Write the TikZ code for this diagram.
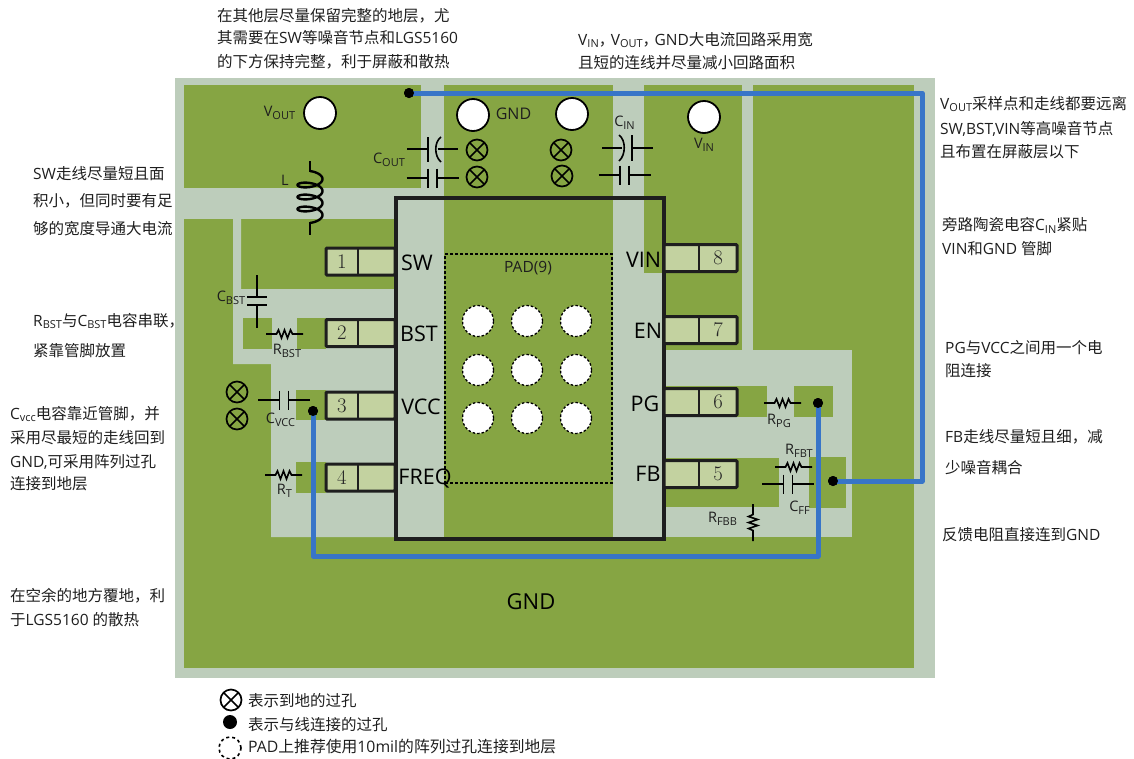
\documentclass[tikz,border=0pt]{standalone}
\usepackage{fontspec}
\setmainfont{Open Sans}
\newfontfamily\cn{Noto Sans CJK SC}
\definecolor{plane}{HTML}{86A543}
\definecolor{gap}{HTML}{BDCDBB}
\definecolor{padfill}{HTML}{C3D2A0}
\definecolor{trace}{HTML}{3875C8}
\definecolor{ink}{HTML}{1E1E1E}
\newcommand{\zh}[1]{{\cn #1}}
\newcommand{\lsub}[1]{\raisebox{-0.35ex}{\fontsize{11}{11}\selectfont #1}}
\newcommand{\tsub}[1]{\raisebox{-0.35ex}{\fontsize{11}{11}\selectfont #1}}
\newcommand{\numL}[1]{\makebox[69pt][l]{\makebox[32pt]{$#1$}}}
\newcommand{\numR}[1]{\makebox[73pt][r]{\makebox[38pt]{$#1$}}}
\newcommand{\cnsep}{\makebox[12pt][l]{\zh{，}}}
\tikzset{
    pinL/.style={rectangle, draw=ink, line width=3pt, fill=padfill, rounded corners=1pt, minimum width=69pt, minimum height=27pt, inner sep=0pt, text=black!85, font=\fontsize{20}{21}\selectfont,
        path picture={\draw[ink, line width=1.3pt] ([xshift=32pt]path picture bounding box.north west) -- ([xshift=32pt]path picture bounding box.south west);}},
    pinR/.style={pinL, minimum width=73pt,
        path picture={\draw[ink, line width=1.3pt] ([xshift=-38pt]path picture bounding box.north east) -- ([xshift=-38pt]path picture bounding box.south east);}},
    pinname/.style={font=\fontsize{21.5}{23}\selectfont, text=black, inner sep=0pt},
    part/.style={font=\fontsize{14.5}{16}\selectfont, text=ink, inner sep=0pt},
    note/.style={font=\fontsize{15.5}{17}\selectfont, text=ink, inner sep=0pt, anchor=west},
    hole/.style={circle, draw=black, line width=1.8pt, fill=white, minimum size=32pt, inner sep=0pt},
    padvia/.style={circle, draw=black, line width=1.3pt, dash pattern=on 2.5pt off 2pt, fill=white, minimum size=31pt, inner sep=0pt},
    gndvia/.style={circle, draw=black, line width=1.7pt, minimum size=21pt, inner sep=0pt,
        path picture={\draw[black, line width=1.7pt] (path picture bounding box.south west) -- (path picture bounding box.north east) (path picture bounding box.north west) -- (path picture bounding box.south east);}},
    dotvia/.style={circle, fill=black, minimum size=10pt, inner sep=0pt},
    bluetrace/.style={trace, line width=5pt, line join=round},
    comp/.style={black, line width=1.6pt},
    resH/.pic={\draw[comp] (-18.5,0) -- (-8,0) -- (-6,-4) -- (-3,4) -- (0,-4) -- (3,4) -- (6,-4) -- (8,0) -- (18.5,0);},
    resV/.pic={\draw[comp] (0,-18.5) -- (0,-8) -- (-4.5,-6) -- (4.5,-3) -- (-4.5,0) -- (4.5,3) -- (-4.5,6) -- (0,8) -- (0,18.5);},
    capH/.pic={\draw[comp] (-26,0) -- (-4.5,0) (4.5,0) -- (26,0) (-4.5,-9.5) -- (-4.5,9.5) (4.5,-9.5) -- (4.5,9.5);},
}
\begin{document}
\begin{tikzpicture}[x=1pt, y=-1pt]
\useasboundingbox (0,0) rectangle (1134,758);

% board
\fill[gap] (175,78) rectangle (935,678);
\fill[plane] (184,84.5) rectangle (914,668);
\fill[gap] (175,188) rectangle (396,219);
\fill[gap] (233,219) -- (241,219) -- (241,289) -- (396,289) -- (396,537) -- (271,537) -- (271,364) -- (233,364) -- cycle;
\fill[gap] (421,78) rectangle (444,188);
\fill[gap] (396,188) rectangle (444,537);
\fill[gap] (613,78) rectangle (644,273);
\fill[gap] (613,273) rectangle (664,537);
\fill[gap] (742,78) rectangle (753,350);
\fill[gap] (664,350) rectangle (852,537);
\fill[plane] (243,318) rectangle (272,349);
\fill[plane] (297,318) rectangle (326,349);
\fill[plane] (296,390) rectangle (326,420);
\fill[plane] (296,462) rectangle (326,493);
\fill[plane] (664,386) rectangle (767,417);
\fill[plane] (794,386) rectangle (833,417);
\fill[plane] (664,458) rectangle (779,507);
\fill[plane] (809,457) rectangle (846,508);

% chip
\node[rectangle, draw=ink, line width=3.2pt, minimum width=268pt, minimum height=341pt, inner sep=0pt] (chip) at (530,368.5) {};
\node[rectangle, draw=black, line width=1.4pt, dash pattern=on 3pt off 2pt, minimum width=167pt, minimum height=229pt, inner sep=0pt] (pad) at (528.5,368.5) {};
\node[font=\fontsize{15.5}{17}\selectfont, text=ink, inner sep=0pt] (padname) at (528,268.5) {PAD(9)};
\node[padvia] (v1) at (478,321) {};
\node[padvia] (v2) at (527,321) {};
\node[padvia] (v3) at (576,321) {};
\node[padvia] (v4) at (478,370) {};
\node[padvia] (v5) at (527,370) {};
\node[padvia] (v6) at (576,370) {};
\node[padvia] (v7) at (478,418) {};
\node[padvia] (v8) at (527,418) {};
\node[padvia] (v9) at (576,418) {};

% pins
\node[pinL] (pin1) at (360.5,261.5) {\numL{1}};
\node[pinL] (pin2) at (360.5,333) {\numL{2}};
\node[pinL] (pin3) at (360.5,405.5) {\numL{3}};
\node[pinL] (pin4) at (360.5,477.5) {\numL{4}};
\node[pinR] (pin8) at (700.5,258) {\numR{8}};
\node[pinR] (pin7) at (700.5,330) {\numR{7}};
\node[pinR] (pin6) at (700.5,402) {\numR{6}};
\node[pinR] (pin5) at (700.5,474) {\numR{5}};
\node[pinname] (sw) at (417,263) {SW};
\node[pinname] (bst) at (419,334) {BST};
\node[pinname] (vcc) at (421,407) {VCC};
\node[pinname] (freq) at (425,479) {FREQ};
\node[pinname] (vin) at (643.5,260) {VIN};
\node[pinname] (en) at (648,331) {EN};
\node[pinname] (pg) at (645,404) {PG};
\node[pinname] (fb) at (648,474) {FB};
\node[pinname, font=\fontsize{22}{24}\selectfont] (gndbig) at (531,602) {GND};

% top holes
\node[hole] (hvout) at (320,113) {};
\node[hole] (hgnda) at (473,115) {};
\node[hole] (hgndb) at (572,114) {};
\node[hole] (hvin) at (704,117) {};
\node[part] (lvout) at (279.5,113) {V\lsub{OUT}};
\node[part, font=\fontsize{16}{18}\selectfont] (lgnd) at (513.5,114) {GND};
\node[part] (lvin) at (704,145) {V\lsub{IN}};

% ground vias
\node[gndvia] (ga) at (477,150) {};
\node[gndvia] (gb) at (477,177) {};
\node[gndvia] (gc) at (561,150) {};
\node[gndvia] (gd) at (562,176) {};
\node[gndvia] (ge) at (237,392) {};
\node[gndvia] (gf) at (237,419) {};

% inductor
\draw[comp] (310,161) -- (310,172) (310,222) -- (310,235);
\draw[black, line width=2.4pt] plot[domain=-90:1170, samples=140] ({310+12.5*cos(\x)},{179+\x/30+5*sin(\x)});
\node[part] (ll) at (285,180) {L};

% capacitors
\pic at (432.5,178) {capH};
\draw[comp] (407,149) -- (428,149) (428,137) -- (428,162) (437.5,149) -- (458,149);
\draw[comp] (441,137) .. controls (434,142) and (434,156) .. (441,162);
\node[part] (lcouta) at (389,160) {C\lsub{OUT}};
\pic at (624.5,175) {capH};
\draw[comp] (602,148) -- (622,148) (632,135) -- (632,161) (632,148) -- (653,148);
\draw[comp] (619,135) .. controls (626,140) and (626,155) .. (619,161);
\node[part] (lcin) at (624.5,123) {C\lsub{IN}};
\draw[comp] (257,275) -- (257,297) (247,297) -- (267,297) (247,305) -- (267,305) (257,305) -- (257,328);
\node[part] (lcbst) at (231,298) {C\lsub{BST}};
\pic at (284,400) {capH};
\node[part] (lcvcc) at (280.5,420) {C\lsub{VCC}};
\pic at (788,484) {capH};
\node[part] (lcff) at (799.5,508) {C\lsub{FF}};

% resistors
\pic at (284.5,334) {resH};
\node[part] (lrbst) at (287,351) {R\lsub{BST}};
\pic at (283.5,475) {resH};
\node[part] (lrt) at (284.5,491) {R\lsub{T}};
\pic at (782.5,403) {resH};
\node[part] (lrpg) at (779,421) {R\lsub{PG}};
\pic at (793.5,467) {resH};
\node[part] (lrfbt) at (799,451) {R\lsub{FBT}};
\pic at (753,522.5) {resV};
\node[part] (lrfbb) at (722.5,519) {R\lsub{FBB}};

% blue traces
\node[dotvia] (da) at (409,93) {};
\node[dotvia] (db) at (833,481) {};
\node[dotvia] (dc) at (313,411) {};
\node[dotvia] (dd) at (818,403) {};
\coordinate (ca) at (922,94);
\coordinate (cc) at (313,556);
\draw[bluetrace] (da.center) -- (da.center -| ca) -- (ca |- db) -- (db.center);
\draw[bluetrace] (dc.center) -- (cc) -- (cc -| dd) -- (dd.center);
\node[dotvia] at (da) {};
\node[dotvia] at (db) {};
\node[dotvia] at (dc) {};
\node[dotvia] at (dd) {};

% notes top
\node[note] (ta) at (217,16) {\zh{在其他层尽量保留完整的地层，尤}};
\node[note] (tb) at (217,38) {\zh{其需要在}SW\zh{等噪音节点和}LGS5160};
\node[note] (tc) at (217,62) {\zh{的下方保持完整，利于屏蔽和散热}};
\node[note] (td) at (578,40) {V\tsub{IN}\cnsep V\tsub{OUT}\cnsep GND\zh{大电流回路采用宽}};
\node[note] (te) at (578,63) {\zh{且短的连线并尽量减小回路面积}};
% notes right
\node[note] (ra) at (940,104) {V\tsub{OUT}\zh{采样点和走线都要远离}};
\node[note] (rb) at (940,129) {SW,BST,VIN\zh{等高噪音节点}};
\node[note] (rc) at (940,152) {\zh{且布置在屏蔽层以下}};
\node[note] (rd) at (942,225) {\zh{旁路陶瓷电容}C\tsub{IN}\zh{紧贴}};
\node[note] (re) at (942,249) {VIN\zh{和}GND \zh{管脚}};
\node[note] (rf) at (945,348) {PG\zh{与}VCC\zh{之间用一个电}};
\node[note] (rg) at (945,371) {\zh{阻连接}};
\node[note] (rh) at (945,437) {FB\zh{走线尽量短且细，减}};
\node[note] (ri) at (945,468) {\zh{少噪音耦合}};
\node[note] (rj) at (942,535) {\zh{反馈电阻直接连到}GND};
% notes left
\node[note] (la) at (33,174) {SW\zh{走线尽量短且面}};
\node[note] (lb) at (33,201) {\zh{积小，但同时要有足}};
\node[note] (lc) at (33,229) {\zh{够的宽度导通大电流}};
\node[note] (ld) at (33,321) {R\tsub{BST}\zh{与}C\tsub{BST}\zh{电容串联，}};
\node[note] (le) at (33,351) {\zh{紧靠管脚放置}};
\node[note] (lf) at (10,414) {C\tsub{vcc}\zh{电容靠近管脚，并}};
\node[note] (lg) at (10,438) {\zh{采用尽最短的走线回到}};
\node[note] (lh) at (10,462) {GND,\zh{可采用阵列过孔}};
\node[note] (li) at (10,484) {\zh{连接到地层}};
\node[note] (lj) at (10,596) {\zh{在空余的地方覆地，利}};
\node[note] (lk) at (10,620) {\zh{于}LGS5160 \zh{的散热}};

% legend
\node[gndvia] (keya) at (231,700) {};
\node[dotvia, minimum size=14pt] (keyb) at (230,722) {};
\node[padvia, minimum size=22pt, line width=1.6pt, dash pattern=on 3pt off 3pt, fill=none] (keyc) at (230,748) {};
\node[note] (ka) at (248,701) {\zh{表示到地的过孔}};
\node[note] (kb) at (248,725) {\zh{表示与线连接的过孔}};
\node[note, font=\fontsize{15.8}{17}\selectfont] (kc) at (248,747) {PAD\zh{上推荐使用}10mil\zh{的阵列过孔连接到地层}};

\end{tikzpicture}
\end{document}
